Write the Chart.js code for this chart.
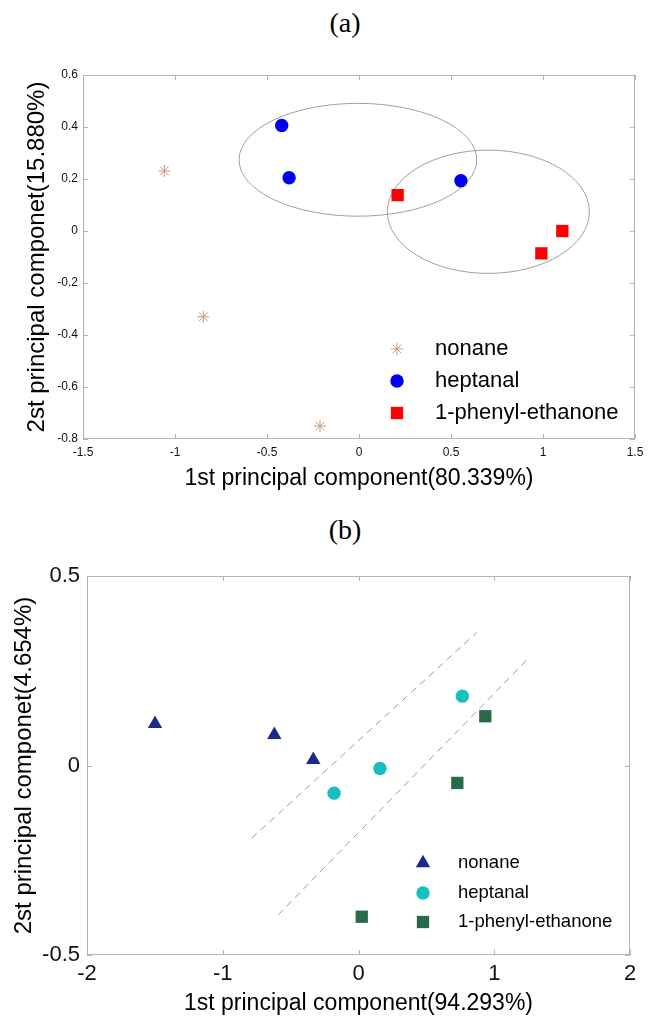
<!DOCTYPE html>
<html>
<head>
<meta charset="utf-8">
<script src="https://cdn.jsdelivr.net/npm/chart.js@4.4.1/dist/chart.umd.min.js"></script>
<style>
  html, body { margin: 0; padding: 0; background: #fff; }
  #page { position: relative; width: 652px; height: 1026px; overflow: hidden; }
  .panel-title {
    position: absolute; left: 295px; width: 100px; text-align: center;
    font-family: "Liberation Serif", "Times New Roman", serif; font-size: 28px; line-height: 28px; color: #000;
  }
  canvas { position: absolute; left: 0; }
</style>
</head>
<body>
<div id="page">
  <div class="panel-title" style="top:9px">(a)</div>
  <canvas id="chartA" width="652" height="505" style="top:0"></canvas>
  <div class="panel-title" style="top:516px">(b)</div>
  <canvas id="chartB" width="652" height="521" style="top:505px"></canvas>
</div>
<script>
// ---- data ----
const seriesNames = ["nonane", "heptanal", "1-phenyl-ethanone"];

// panel (a)
const nonaneAx = [-1.058, -0.846, -0.212];
const nonaneAy = [0.231, -0.330, -0.750];
const heptanalAx = [-0.420, -0.380, 0.554];
const heptanalAy = [0.406, 0.205, 0.193];
const phenylAx = [0.210, 1.105, 0.991];
const phenylAy = [0.138, 0.000, -0.086];
// ellipses: [centerX, centerY, radiusX, radiusY]
const ellipsesA = [[-0.006, 0.274, 0.646, 0.217], [0.703, 0.074, 0.549, 0.237]];
const xTicksA = [-1.5, -1, -0.5, 0, 0.5, 1, 1.5];
const yTicksA = [-0.8, -0.6, -0.4, -0.2, 0, 0.2, 0.4, 0.6];

// panel (b)
const nonaneBx = [-1.499, -0.620, -0.333];
const nonaneBy = [0.110, 0.081, 0.015];
const heptanalBx = [-0.180, 0.158, 0.765];
const heptanalBy = [-0.073, -0.008, 0.183];
const phenylBx = [0.934, 0.728, 0.024];
const phenylBy = [0.130, -0.046, -0.399];
const dashUpperX = [-0.787, 0.871];
const dashUpperY = [-0.192, 0.351];
const dashLowerX = [-0.591, 1.263];
const dashLowerY = [-0.394, 0.287];
const xTicksB = [-2, -1, 0, 1, 2];
const yTicksB = [-0.5, 0, 0.5];

const FONT = '"Liberation Sans", Arial, sans-serif';
const AXIS_GREY = "#b4b4b4";

function pts(xs, ys) {
    return xs.map((x, i) => ({ x: x, y: ys[i] }));
}

function drawMarker(ctx, style, color, r, x, y) {
    ctx.save();
    ctx.fillStyle = color;
    ctx.strokeStyle = color;
    ctx.lineWidth = 1;
    ctx.beginPath();
    if (style === "circle") {
        ctx.arc(x, y, r, 0, Math.PI * 2);
        ctx.fill();
    } else if (style === "rect") {
        const s = r * Math.SQRT1_2;
        ctx.fillRect(x - s, y - s, 2 * s, 2 * s);
    } else if (style === "triangle") {
        let a = 0;
        ctx.moveTo(x + Math.sin(a) * r, y - Math.cos(a) * r);
        a += Math.PI * 2 / 3;
        ctx.lineTo(x + Math.sin(a) * r, y - Math.cos(a) * r);
        a += Math.PI * 2 / 3;
        ctx.lineTo(x + Math.sin(a) * r, y - Math.cos(a) * r);
        ctx.closePath();
        ctx.fill();
    } else if (style === "star") {
        for (let k = 0; k < 4; k++) {
            const a = k * Math.PI / 4;
            ctx.moveTo(x - Math.cos(a) * r, y - Math.sin(a) * r);
            ctx.lineTo(x + Math.cos(a) * r, y + Math.sin(a) * r);
        }
        ctx.stroke();
    }
    ctx.restore();
}

// box around the plot with inward tick marks on all four sides
const boxPlugin = {
    id: "boxTicks",
    beforeDatasetsDraw(chart) {
        const { ctx, chartArea: { left, right, top, bottom }, scales: { x, y } } = chart;
        ctx.save();
        ctx.strokeStyle = AXIS_GREY;
        ctx.lineWidth = 1;
        ctx.strokeRect(left + 0.5, top + 0.5, right - left - 1, bottom - top - 1);
        ctx.beginPath();
        x.ticks.forEach((t) => {
            const px = Math.round(x.getPixelForValue(t.value)) + 0.5;
            ctx.moveTo(px, bottom); ctx.lineTo(px, bottom - 5);
            ctx.moveTo(px, top); ctx.lineTo(px, top + 5);
        });
        y.ticks.forEach((t) => {
            const py = Math.round(y.getPixelForValue(t.value)) + 0.5;
            ctx.moveTo(left, py); ctx.lineTo(left + 5, py);
            ctx.moveTo(right, py); ctx.lineTo(right - 5, py);
        });
        ctx.stroke();
        ctx.restore();
    }
};

const ellipsePlugin = {
    id: "ellipses",
    beforeDatasetsDraw(chart, args, opts) {
        if (!opts.list) return;
        const { ctx, scales: { x, y } } = chart;
        ctx.save();
        ctx.strokeStyle = "#a0a0a0";
        ctx.lineWidth = 1;
        opts.list.forEach(([cx, cy, rx, ry]) => {
            const px = x.getPixelForValue(cx);
            const py = y.getPixelForValue(cy);
            const prx = Math.abs(x.getPixelForValue(cx + rx) - px);
            const pry = Math.abs(y.getPixelForValue(cy + ry) - py);
            ctx.beginPath();
            ctx.ellipse(px, py, prx, pry, 0, 0, Math.PI * 2);
            ctx.stroke();
        });
        ctx.restore();
    }
};

const innerLegendPlugin = {
    id: "innerLegend",
    afterDraw(chart, args, opts) {
        if (!opts.items) return;
        const { ctx } = chart;
        ctx.save();
        ctx.font = opts.fontSize + "px " + FONT;
        ctx.fillStyle = "#000";
        ctx.textBaseline = "middle";
        ctx.textAlign = "left";
        opts.items.forEach((it, i) => {
            const yy = opts.rows[i];
            drawMarker(ctx, it.style, it.color, it.radius, opts.markerX, yy);
            ctx.fillText(it.label, opts.textX, yy);
        });
        ctx.restore();
    }
};

function scatterSet(label, data, style, color, radius) {
    return {
        label: label,
        data: data,
        showLine: false,
        pointStyle: style,
        pointRadius: radius,
        pointHoverRadius: radius,
        pointBackgroundColor: color,
        pointBorderColor: color,
        pointBorderWidth: style === "star" ? 1 : 0
    };
}

function dashSet(data) {
    return {
        label: "",
        data: data,
        showLine: true,
        borderColor: "#9a9a9a",
        borderWidth: 1,
        borderDash: [7, 5],
        pointRadius: 0,
        fill: false
    };
}

function axis(opts) {
    return {
        type: "linear",
        min: opts.min,
        max: opts.max,
        afterBuildTicks: (scale) => { scale.ticks = opts.ticks.map((v) => ({ value: v })); },
        afterFit: (scale) => {
            if (opts.width) scale.width = opts.width;
            if (opts.height) scale.height = opts.height;
        },
        grid: { display: true, drawOnChartArea: false, drawTicks: false },
        border: { display: false },
        ticks: {
            padding: opts.tickPad,
            color: "#111",
            font: { family: FONT, size: opts.tickSize },
            callback: (v) => String(v)
        },
        title: {
            display: true,
            text: opts.title,
            color: "#000",
            font: { family: FONT, size: opts.titleSize },
            padding: opts.titlePad
        }
    };
}

const colA = { nonane: "#cf967a", heptanal: "#0000f0", phenyl: "#ff0000" };

new Chart(document.getElementById("chartA"), {
    type: "scatter",
    data: {
        datasets: [
            scatterSet(seriesNames[0], pts(nonaneAx, nonaneAy), "star", colA.nonane, 6),
            scatterSet(seriesNames[1], pts(heptanalAx, heptanalAy), "circle", colA.heptanal, 6.7),
            scatterSet(seriesNames[2], pts(phenylAx, phenylAy), "rect", colA.phenyl, 8.7)
        ]
    },
    options: {
        responsive: false,
        animation: false,
        layout: { padding: { top: 75, right: 17, left: 0, bottom: 0 } },
        scales: {
            x: axis({ min: -1.5, max: 1.5, ticks: xTicksA, height: 66, tickPad: 6, tickSize: 12,
                      title: "1st principal component(80.339%)", titleSize: 23, titlePad: { top: 0, bottom: 13 } }),
            y: axis({ min: -0.8, max: 0.6, ticks: yTicksA, width: 83, tickPad: 5, tickSize: 12,
                      title: "2st principal componet(15.880%)", titleSize: 24, titlePad: { top: 23, bottom: 0 } })
        },
        plugins: {
            legend: { display: false },
            tooltip: { enabled: false },
            ellipses: { list: ellipsesA },
            innerLegend: {
                fontSize: 22, markerX: 397, textX: 435, rows: [349, 381, 413],
                items: [
                    { label: seriesNames[0], style: "star", color: colA.nonane, radius: 6 },
                    { label: seriesNames[1], style: "circle", color: colA.heptanal, radius: 6.7 },
                    { label: seriesNames[2], style: "rect", color: colA.phenyl, radius: 8.7 }
                ]
            }
        }
    },
    plugins: [boxPlugin, ellipsePlugin, innerLegendPlugin]
});

const colB = { nonane: "#1b2a8a", heptanal: "#16bfc0", phenyl: "#296a4a" };

new Chart(document.getElementById("chartB"), {
    type: "scatter",
    data: {
        datasets: [
            dashSet(pts(dashUpperX, dashUpperY)),
            dashSet(pts(dashLowerX, dashLowerY)),
            scatterSet(seriesNames[0], pts(nonaneBx, nonaneBy), "triangle", colB.nonane, 8.3),
            scatterSet(seriesNames[1], pts(heptanalBx, heptanalBy), "circle", colB.heptanal, 6.7),
            scatterSet(seriesNames[2], pts(phenylBx, phenylBy), "rect", colB.phenyl, 8.7)
        ]
    },
    options: {
        responsive: false,
        animation: false,
        layout: { padding: { top: 71, right: 22, left: 0, bottom: 0 } },
        scales: {
            x: axis({ min: -2, max: 2, ticks: xTicksB, height: 71, tickPad: 6, tickSize: 22,
                      title: "1st principal component(94.293%)", titleSize: 23, titlePad: { top: 0, bottom: 9 } }),
            y: axis({ min: -0.5, max: 0.5, ticks: yTicksB, width: 87, tickPad: 7, tickSize: 22,
                      title: "2st principal componet(4.654%)", titleSize: 24, titlePad: { top: 10, bottom: 0 } })
        },
        plugins: {
            legend: { display: false },
            tooltip: { enabled: false },
            innerLegend: {
                fontSize: 18.5, markerX: 423, textX: 458, rows: [358, 388, 417],
                items: [
                    { label: seriesNames[0], style: "triangle", color: colB.nonane, radius: 8.3 },
                    { label: seriesNames[1], style: "circle", color: colB.heptanal, radius: 6.7 },
                    { label: seriesNames[2], style: "rect", color: colB.phenyl, radius: 8.7 }
                ]
            }
        }
    },
    plugins: [boxPlugin, innerLegendPlugin]
});
</script>
</body>
</html>
